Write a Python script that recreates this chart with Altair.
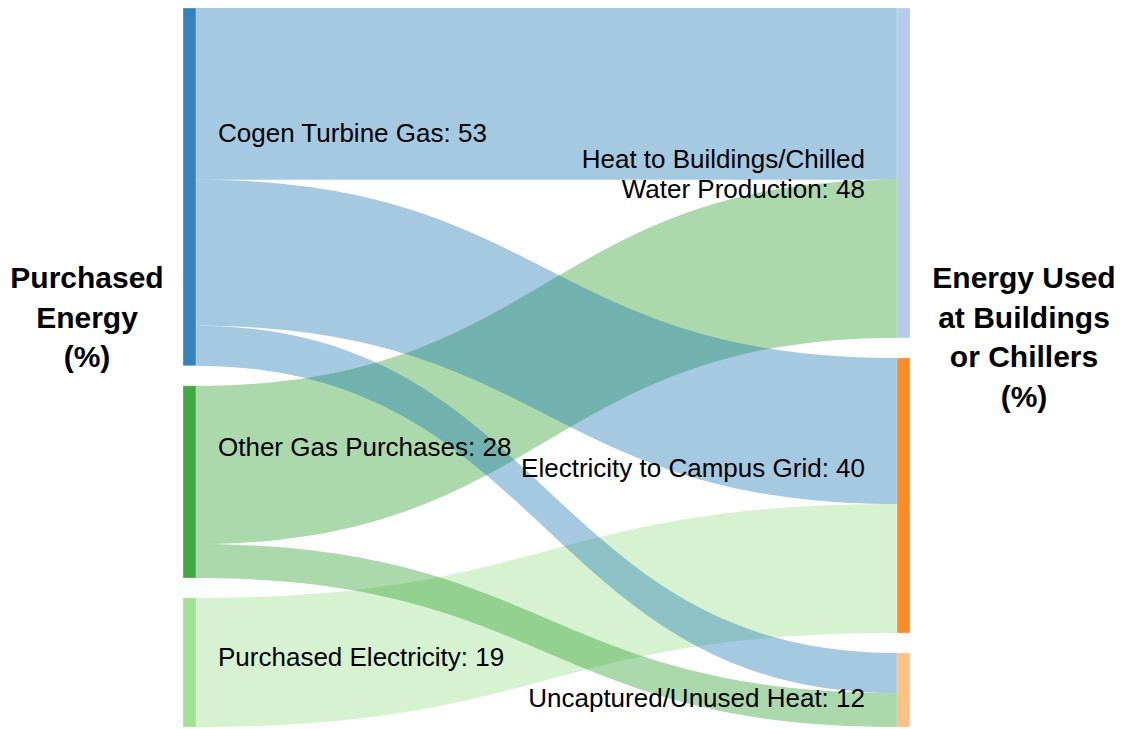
import altair as alt
import pandas as pd
import numpy as np

# ---------------- data ----------------
left_nodes = ["Cogen Turbine Gas", "Other Gas Purchases", "Purchased Electricity"]
left_values_label = [53, 28, 19]
right_nodes = ["Heat to Buildings/Chilled Water Production", "Electricity to Campus Grid", "Uncaptured/Unused Heat"]
right_values_label = [48, 40, 12]

link_source = [0, 0, 0, 1, 1, 2]
link_target = [0, 1, 2, 0, 2, 1]
link_value = [25.3, 21.5, 5.9, 23.3, 5.0, 19.0]

left_colors = ["#1f77b4", "#2ca02c", "#98df8a"]
right_colors = ["#aec7e8", "#ff7f0e", "#ffbb78"]

left_title = ["Purchased", "Energy", "(%)"]
right_title = ["Energy Used", "at Buildings", "or Chillers", "(%)"]

# ---------------- layout (style) ----------------
GAP = 2.95          # gap between nodes, in value units
NODE_W = 13 / 701   # node width in x-units
W, H = 1112, 719
FONT = "Liberation Sans"

n_left = len(left_nodes)
n_right = len(right_nodes)
left_tot = [sum(v for s, v in zip(link_source, link_value) if s == i) for i in range(n_left)]
right_tot = [sum(v for t, v in zip(link_target, link_value) if t == j) for j in range(n_right)]
total = max(sum(left_tot) + GAP * (n_left - 1), sum(right_tot) + GAP * (n_right - 1))

def stack(tots):
    tops, y = [], 0.0
    for v in tots:
        tops.append(y)
        y += v + GAP
    return tops

left_top = stack(left_tot)
right_top = stack(right_tot)

# node rectangles
node_rows = []
for i in range(n_left):
    node_rows.append(dict(name=left_nodes[i], x0=-NODE_W, x1=0.0,
                          y0=left_top[i], y1=left_top[i] + left_tot[i], color=left_colors[i]))
for j in range(n_right):
    node_rows.append(dict(name=right_nodes[j], x0=1.0, x1=1.0 + NODE_W,
                          y0=right_top[j], y1=right_top[j] + right_tot[j], color=right_colors[j]))
nodes_df = pd.DataFrame(node_rows)

# link bands: offsets within source (ordered by target) and target (ordered by source)
src_off = {}
for i in range(n_left):
    y = left_top[i]
    for k in sorted([k for k in range(len(link_value)) if link_source[k] == i], key=lambda k: link_target[k]):
        src_off[k] = y
        y += link_value[k]
tgt_off = {}
for j in range(n_right):
    y = right_top[j]
    for k in sorted([k for k in range(len(link_value)) if link_target[k] == j], key=lambda k: link_source[k]):
        tgt_off[k] = y
        y += link_value[k]

t = np.linspace(0, 1, 80)
bx = 3 * (1 - t) ** 2 * t * 0.5 + 3 * (1 - t) * t ** 2 * 0.5 + t ** 3
by = 3 * t ** 2 - 2 * t ** 3

x_scale = alt.Scale(domain=[0, 1], range=[188, 889])
y_scale = alt.Scale(domain=[0, total], range=[0, H], nice=False, zero=False)

link_layers = []
# draw order: last source first so the first source's bands sit on top
for i in reversed(range(n_left)):
    for k in [k for k in range(len(link_value)) if link_source[k] == i]:
        y0 = src_off[k]
        y1 = tgt_off[k]
        v = link_value[k]
        df = pd.DataFrame({
            "x": bx,
            "top": y0 + (y1 - y0) * by,
            "bot": y0 + v + (y1 - y0) * by,
        })
        link_layers.append(
            alt.Chart(df).mark_area(color=left_colors[i], opacity=0.4, interpolate="linear").encode(
                x=alt.X("x:Q", scale=x_scale, axis=None),
                y=alt.Y("top:Q", scale=y_scale, axis=None),
                y2="bot:Q",
            )
        )

nodes = alt.Chart(nodes_df).mark_rect(opacity=0.9, stroke="white", strokeWidth=0.5, strokeOpacity=0.6).encode(
    x=alt.X("x0:Q", scale=x_scale, axis=None),
    x2="x1:Q",
    y=alt.Y("y0:Q", scale=y_scale, axis=None),
    y2="y1:Q",
    color=alt.Color("color:N", scale=None),
)

# ---------------- text ----------------
left_label_text = [f"{n}: {v}" for n, v in zip(left_nodes, left_values_label)]
right_label_lines = [["Heat to Buildings/Chilled", f"Water Production: {right_values_label[0]}"],
                     [f"{right_nodes[1]}: {right_values_label[1]}"],
                     [f"{right_nodes[2]}: {right_values_label[2]}"]]

left_label_py = [134, 448, 658]
right_label_py = [[160, 190], [469], [699]]

ll_df = pd.DataFrame({"text": left_label_text, "py": left_label_py})
rl_rows = []
for lines, pys in zip(right_label_lines, right_label_py):
    for s, p in zip(lines, pys):
        rl_rows.append(dict(text=s, py=p))
rl_df = pd.DataFrame(rl_rows)

left_labels = alt.Chart(ll_df).mark_text(align="left", baseline="alphabetic", font=FONT, fontSize=26, color="black").encode(
    x=alt.value(210), y=alt.Y("py:Q", scale=None), text="text:N")
right_labels = alt.Chart(rl_df).mark_text(align="right", baseline="alphabetic", font=FONT, fontSize=26, color="black").encode(
    x=alt.value(857), y=alt.Y("py:Q", scale=None), text="text:N")

lt_df = pd.DataFrame({"text": left_title, "py": [280, 320, 359]})
rt_df = pd.DataFrame({"text": right_title, "py": [280, 320, 359, 399]})
left_t = alt.Chart(lt_df).mark_text(align="center", baseline="alphabetic", font=FONT, fontSize=30,
                                    fontWeight="bold", color="black").encode(
    x=alt.value(79), y=alt.Y("py:Q", scale=None), text="text:N")
right_t = alt.Chart(rt_df).mark_text(align="center", baseline="alphabetic", font=FONT, fontSize=30,
                                     fontWeight="bold", color="black").encode(
    x=alt.value(1016), y=alt.Y("py:Q", scale=None), text="text:N")

chart = alt.layer(*link_layers, nodes, left_labels, right_labels, left_t, right_t).properties(
    width=W, height=H, padding=0, autosize=alt.AutoSizeParams(type="none")
).configure_view(stroke=None).resolve_scale(y="shared")

chart.save("out.html", embed_options={"renderer": "svg", "actions": False})
